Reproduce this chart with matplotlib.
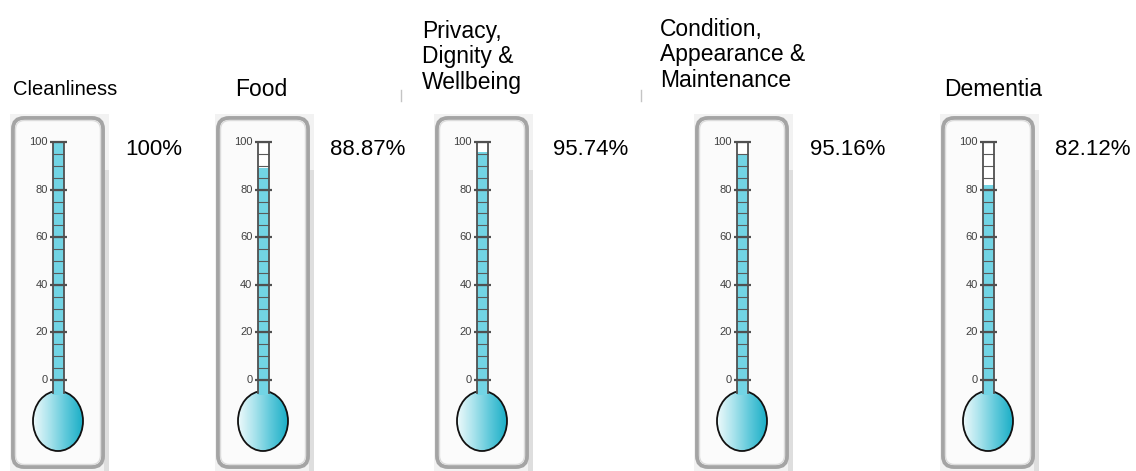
import numpy as np
import matplotlib
matplotlib.use("Agg")
import matplotlib.pyplot as plt
from matplotlib.patches import FancyBboxPatch, Rectangle, Ellipse
from matplotlib.colors import LinearSegmentedColormap
import logging
logging.getLogger('matplotlib.font_manager').setLevel(logging.ERROR)

plt.rcParams['font.family'] = ['Liberation Sans', 'DejaVu Sans']

# ---------------- data ----------------
categories = ["Cleanliness", "Food", "Privacy,\nDignity &\nWellbeing",
              "Condition,\nAppearance &\nMaintenance", "Dementia"]
values = [100.0, 88.87, 95.74, 95.16, 82.12]
value_labels = ["100%", "88.87%", "95.74%", "95.16%", "82.12%"]
major_ticks = [0, 20, 40, 60, 80, 100]
minor_ticks = list(range(0, 101, 5))
scale_min, scale_max = 0, 100

# ---------------- layout (pixels) ----------------
W, H = 1136, 471
box_left = [13, 218, 437, 697, 943]
box_w = 90
box_top, box_bot = 118, 467
tube_off = 45          # tube centre relative to box left
tube_w = 11
px0, px100 = 380, 142  # pixel rows of 0 and 100 on the scale
title_pos = [(13, 95, 'baseline', 14.5), (235, 96, 'baseline', 16.5),
             (422, 20, 'top', 16.5), (660, 18, 'top', 16.5),
             (944, 96, 'baseline', 16.5)]
label_x = [125, 330, 553, 810, 1055]
label_y = 155

fill_col = '#72d4e4'
line_col = '#505050'
bulb_cmap = LinearSegmentedColormap.from_list(
    'bulb', ['#eefafc', '#a9e3ec', '#5cc8da', '#1aaec6'])

fig = plt.figure(figsize=(W / 100, H / 100), dpi=100)

# background axis in pixel coordinates for decorations/text
bg = fig.add_axes([0, 0, 1, 1])
bg.set_xlim(0, W)
bg.set_ylim(H, 0)
bg.axis('off')

for i, L in enumerate(box_left):
    R = L + box_w
    # backdrop / shadow
    bg.add_patch(Rectangle((L - 3, box_top - 4), box_w + 9, H - box_top + 4,
                           facecolor='#f2f2f2', edgecolor='none', zorder=0))
    bg.add_patch(Rectangle((R + 1, 170), 5, H - 170,
                           facecolor='#dedede', edgecolor='none', zorder=0.5))
    # box
    bg.add_patch(FancyBboxPatch((L, box_top), box_w, box_bot - box_top,
                                boxstyle="round,pad=0,rounding_size=11",
                                facecolor='#fbfbfb', edgecolor='#a4a4a4',
                                linewidth=2.8, zorder=1))
    bg.add_patch(FancyBboxPatch((L + 2.5, box_top + 2.5), box_w - 5, box_bot - box_top - 5,
                                boxstyle="round,pad=0,rounding_size=9",
                                facecolor='none', edgecolor='#dcdcdc',
                                linewidth=1.0, zorder=1.1))
    # title
    tx, ty, va, fs = title_pos[i]
    bg.text(tx, ty, categories[i], ha='left', va=va, fontsize=fs,
            color='#000000', linespacing=1.13)
    # value label
    bg.text(label_x[i], label_y, value_labels[i], ha='left', va='baseline',
            fontsize=16, color='#000000')

# small stray marks between panels
for x in (401, 641):
    bg.plot([x, x], [90, 101], color='#c4c4c4', lw=1.0)

# thermometers: one axis each, y in scale units
ppu = (px0 - px100) / (scale_max - scale_min)
ax_top_px, ax_bot_px = 112, H
v_top = (px0 - ax_top_px) / ppu
v_bot = (px0 - ax_bot_px) / ppu

for i, L in enumerate(box_left):
    ax = fig.add_axes([(L - 5) / W, (H - ax_bot_px) / H,
                       105 / W, (ax_bot_px - ax_top_px) / H])
    ax.patch.set_alpha(0)
    ax.axis('off')
    xc = tube_off + 0.0

    # bulb
    b_top = (px0 - 391) / ppu
    b_bot = (px0 - 451) / ppu
    ell = Ellipse((xc, (b_top + b_bot) / 2), 50, b_top - b_bot,
                  facecolor='none', edgecolor='#111111', lw=1.3, zorder=3)
    grad = np.linspace(0, 1, 256).reshape(1, -1)
    im = ax.imshow(grad, cmap=bulb_cmap, extent=[xc - 25, xc + 25, b_bot, b_top],
                   aspect='auto', zorder=2, interpolation='bilinear')
    ax.add_patch(ell)
    im.set_clip_path(ell)

    # neck (fill from bulb into the tube)
    neck_bot = b_top - 1.5
    ax.add_patch(Rectangle((xc - tube_w / 2, neck_bot), tube_w, scale_min - neck_bot,
                           facecolor=fill_col, edgecolor='none', zorder=4))
    ax.plot([xc - tube_w / 2, xc - tube_w / 2], [neck_bot + 0.6, scale_max],
            color=line_col, lw=1.3, zorder=6)
    ax.plot([xc + tube_w / 2, xc + tube_w / 2], [neck_bot + 0.6, scale_max],
            color=line_col, lw=1.3, zorder=6)

    # tube background + value fill
    ax.bar([xc], [scale_max], bottom=scale_min, width=tube_w, color='white',
           edgecolor='none', zorder=3.5)
    ax.bar([xc], [values[i]], bottom=scale_min, width=tube_w, color=fill_col,
           edgecolor='none', zorder=4)

    # minor & major ticks
    ax.hlines(minor_ticks, xc - tube_w / 2, xc + tube_w / 2, colors='#5a5a5a',
              lw=0.8, zorder=5)
    ax.hlines(major_ticks, xc - tube_w / 2 - 3, xc + tube_w / 2 + 3,
              colors=line_col, lw=1.6, zorder=6)
    for t in major_ticks:
        ax.text(xc - tube_w / 2 - 5, t, str(t), ha='right', va='center',
                fontsize=8, color='#404040', zorder=7,
                family=['Liberation Sans Narrow', 'Liberation Sans'])

    ax.set_xlim(-5, 100)
    ax.set_ylim(v_bot, v_top)

fig.savefig('out.png', dpi=100)
